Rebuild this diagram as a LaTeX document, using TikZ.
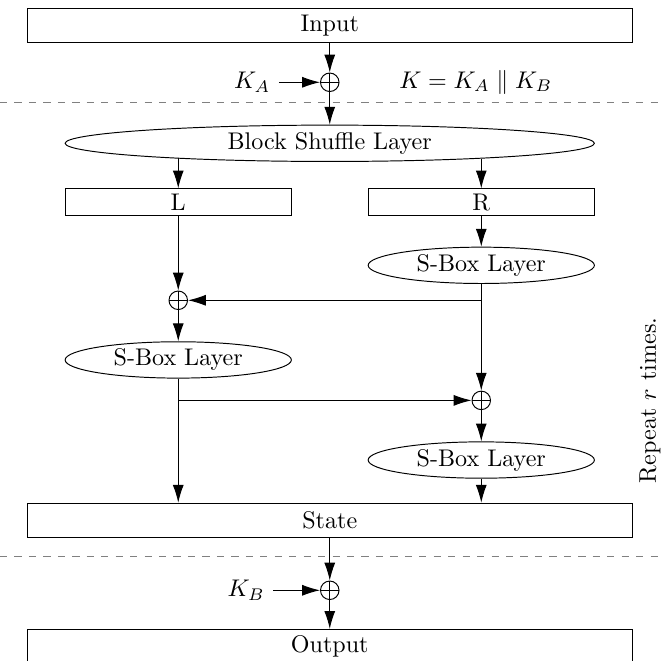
\documentclass[tikz,border=0pt]{standalone}
\usetikzlibrary{arrows.meta, positioning, calc, shapes.geometric}

\begin{document}
\begin{tikzpicture}[>={Latex[length=2.6mm, width=1.6mm]},
    box/.style={draw, rectangle, minimum width=8.83cm, minimum height=0.50cm, inner sep=0pt},
    half/.style={draw, rectangle, minimum width=3.30cm, minimum height=0.39cm, inner sep=0pt},
    layer/.style={draw, ellipse, minimum width=3.30cm, minimum height=0.53cm, inner sep=0pt},
    xor/.style={draw, circle, minimum size=0.27cm, inner sep=0pt,
        path picture={\draw (path picture bounding box.north) -- (path picture bounding box.south)
            (path picture bounding box.west) -- (path picture bounding box.east);}},
    sep/.style={dashed, gray}]
    \useasboundingbox (0,0) rectangle (9.70,-9.63);

    \node[box] (input) at (4.81,-0.37) {Input};
    \node[xor] (x1) at (4.81,-1.20) {};
    \node (ka) at (3.68,-1.20) {$K_A$};
    \node (key) at (6.94,-1.20) {$K = K_A \parallel K_B$};
    \draw[sep] (0,-1.49) -- (9.70,-1.49);

    \node[layer, minimum width=7.72cm] (shuffle) at (4.81,-2.09) {Block Shuffle Layer};
    \node[half] (l) at (2.60,-2.95) {L};
    \node[half] (r) at (7.02,-2.95) {R};
    \node[layer] (sr1) at (7.02,-3.87) {S-Box Layer};
    \node[xor] (x2) at (2.60,-4.38) {};
    \node[layer] (sl) at (2.60,-5.25) {S-Box Layer};
    \node[xor] (x3) at (7.02,-5.84) {};
    \node[layer] (sr2) at (7.02,-6.71) {S-Box Layer};
    \node[box] (state) at (4.81,-7.59) {State};
    \node[rotate=90] (rep) at (9.48,-5.84) {Repeat $r$ times.};

    \draw[sep] (0,-8.11) -- (9.70,-8.11);
    \node[xor] (x4) at (4.81,-8.61) {};
    \node (kb) at (3.59,-8.61) {$K_B$};
    \node[box] (output) at (4.81,-9.43) {Output};

    \draw[->] (input) -- (x1);
    \draw[->] (ka) -- (x1);
    \draw[->] (x1) -- (shuffle);
    \draw[->] (l.north |- shuffle.185.7) -- (l);
    \draw[->] (r.north |- shuffle.354.3) -- (r);
    \draw[->] (l) -- (x2);
    \draw[->] (r) -- (sr1);
    \draw[->] (sr1) -- (x3);
    \draw[->] (sr1.south |- x2) -- (x2);
    \draw[->] (x2) -- (sl);
    \draw[->] (sl) -- (sl |- state.north);
    \draw[->] (sl.south |- x3) -- (x3);
    \draw[->] (x3) -- (sr2);
    \draw[->] (sr2) -- (sr2 |- state.north);
    \draw[->] (state) -- (x4);
    \draw[->] (kb) -- (x4);
    \draw[->] (x4) -- (output);
\end{tikzpicture}
\end{document}
